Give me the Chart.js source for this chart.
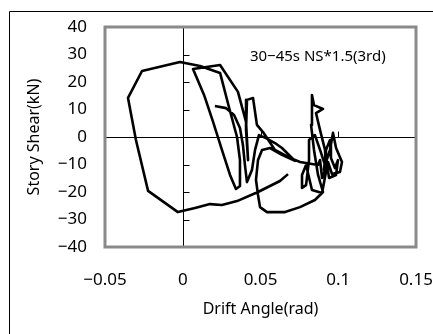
<!DOCTYPE html>
<html>
<head>
<meta charset="utf-8">
<script src="https://cdn.jsdelivr.net/npm/chart.js@4/dist/chart.umd.min.js"></script>
<style>
  html, body { margin: 0; padding: 0; background: #fff; }
  #wrap { position: relative; width: 433px; height: 334px; overflow: hidden; }
</style>
</head>
<body>
<div id="wrap"><canvas id="chart" width="433" height="334"></canvas></div>
<script>
// Hysteresis path
const driftAngle = [
  0.0207, 0.0278, 0.0330, 0.0368, 0.0387, 0.0400, 0.0413, 0.0445, 0.0465, 0.0490,
  0.0535, 0.0593, 0.0638, 0.0722, 0.0638, 0.0561, 0.0510, 0.0484, 0.0471, 0.0484,
  0.0497, 0.0542, 0.0658, 0.0754, 0.0850, 0.0902, 0.0870, 0.0844, 0.0825, 0.0831,
  0.0844, 0.0902, 0.0857, 0.0883, 0.0915, 0.0921, 0.0896, 0.0831, 0.0793, 0.0767,
  0.0767, 0.0793, 0.0812, 0.0812, 0.0850, 0.0883, 0.0915, 0.0947, 0.0966, 0.0986,
  0.1024, 0.1011, 0.0960, 0.0934, 0.0908,
  0.0921, 0.0947, 0.0953, 0.0979, 0.0998, 0.0986, 0.0941, 0.0928, 0.0896, 0.0883,
  0.0870, 0.0754, 0.0690, 0.0593, 0.0516,
  0.0477, 0.0452, 0.0413, 0.0407, 0.0420, 0.0407, 0.0355, 0.0240, 0.0066, 0.0137,
  0.0195, 0.0252, 0.0304, 0.0342, 0.0368, 0.0368, 0.0349, 0.0297, 0.0240, 0.0111,
  -0.0018, -0.0262, -0.0352, -0.0301, -0.0223, -0.0031, 0.0079, 0.0175, 0.0252, 0.0349,
  0.0484, 0.0625, 0.0677
];
const storyShear = [
  11.3, 10.5, 8.0, 3.3, -2.9, -10.2, -16.4, -12.0, -4.7, 0.7,
  -0.4, -2.2, -4.0, -8.7, -6.5, -4.0, -4.7, -8.4, -15.6, -21.1,
  -25.5, -27.3, -27.3, -25.5, -22.9, -20.0, -13.8, -4.7, 4.4, 15.3,
  11.6, 10.2, 8.7, 2.5, -4.7, -12.7, -20.4, -19.3, -10.2, -13.8,
  -18.5, -17.5, -8.4, -1.1, 0.7, -4.7, -10.2, -4.7, 1.5, -4.0,
  -9.1, -12.7, -13.5, -9.1, -12.0,
  -4.7, -1.1, -7.6, -11.3, -8.4, -13.8, -14.9, -10.2, -14.9, -8.4,
  -10.2, -9.1, -7.6, -4.7, 1.8,
  4.4, 14.2, 13.5, 2.5, -8.4, 5.5, 16.4, 26.2, 24.7, 15.3,
  5.5, -4.7, -13.8, -18.9, -17.8, -8.4, 0.0, 10.9, 23.3, 25.8,
  27.3, 24.0, 14.2, -1.1, -19.6, -27.3, -25.8, -24.4, -24.7, -23.3,
  -20.0, -16.0, -13.5
];

const xTickValues = [-0.05, 0, 0.05, 0.1, 0.15];
const xTickLabels = ["\u22120.05", "0", "0.05", "0.1", "0.15"];
const yTickValues = [-40, -30, -20, -10, 0, 10, 20, 30, 40];
const yTickLabels = ["\u221240", "\u221230", "\u221220", "\u221210", "0", "10", "20", "30", "40"];

const xTitle = "Drift Angle(rad)";
const yTitle = "Story Shear(kN)";
const noteText = "30\u221245s NS*1.5(3rd)";
const noteAt = { x: 0.0432, y: 29.1 };

const FONT = "'Noto Sans', 'Liberation Sans', sans-serif";

// frame, axes through the origin, small tick marks and the note
const decor = {
  id: "decor",
  beforeDraw(chart) {
    const ctx = chart.ctx;
    ctx.save();
    ctx.fillStyle = "#fff";
    ctx.fillRect(0, 0, chart.width, chart.height);
    ctx.strokeStyle = "#000";
    ctx.lineWidth = 1;
    ctx.beginPath();
    ctx.moveTo(9.5, chart.height);
    ctx.lineTo(9.5, 11.5);
    ctx.lineTo(chart.width, 11.5);
    ctx.stroke();
    ctx.restore();
  },
  beforeDatasetsDraw(chart) {
    const { ctx, chartArea: a, scales: { x, y } } = chart;
    const x0 = Math.round(x.getPixelForValue(0)) + 0.5;
    const y0 = Math.round(y.getPixelForValue(0)) + 0.5;
    ctx.save();
    ctx.strokeStyle = "#000";
    ctx.lineWidth = 1;
    ctx.beginPath();
    ctx.moveTo(a.left, y0); ctx.lineTo(a.right, y0);
    ctx.moveTo(x0, a.top); ctx.lineTo(x0, a.bottom);
    yTickValues.forEach(v => {
      const p = Math.round(y.getPixelForValue(v)) + 0.5;
      ctx.moveTo(x0, p); ctx.lineTo(x0 + 6, p);
    });
    xTickValues.forEach(v => {
      const p = Math.round(x.getPixelForValue(v)) + 0.5;
      ctx.moveTo(p, y0); ctx.lineTo(p, y0 - 6);
    });
    ctx.stroke();
    ctx.strokeStyle = "#8a8a8a";
    ctx.lineWidth = 3;
    ctx.strokeRect(a.left, a.top, a.right - a.left, a.bottom - a.top);
    ctx.restore();
  },
  afterDatasetsDraw(chart) {
    const { ctx, scales: { x, y } } = chart;
    ctx.save();
    ctx.fillStyle = "#000";
    ctx.font = "15px " + FONT;
    ctx.textAlign = "left";
    ctx.textBaseline = "middle";
    ctx.fillText(noteText, x.getPixelForValue(noteAt.x), y.getPixelForValue(noteAt.y));
    ctx.restore();
  }
};

new Chart(document.getElementById("chart"), {
  type: "scatter",
  data: {
    datasets: [{
      data: driftAngle.map((v, i) => ({ x: v, y: storyShear[i] })),
      showLine: true,
      borderColor: "#000",
      borderWidth: 2.6,
      borderJoinStyle: "round",
      pointRadius: 0,
      tension: 0
    }]
  },
  options: {
    responsive: false,
    animation: false,
    devicePixelRatio: 1,
    layout: { padding: { left: 0, top: 27, right: 17, bottom: 0 } },
    plugins: { legend: { display: false }, tooltip: { enabled: false } },
    scales: {
      x: {
        type: "linear",
        min: -0.05,
        max: 0.15,
        grid: { display: false, drawTicks: false },
        border: { display: false },
        afterBuildTicks: s => { s.ticks = xTickValues.map(v => ({ value: v })); },
        afterFit: s => { s.height = 87; s.paddingLeft = 0; s.paddingRight = 0; },
        ticks: {
          padding: 23,
          color: "#000",
          font: { family: FONT, size: 17 },
          maxRotation: 0,
          callback: (v, i) => xTickLabels[i]
        },
        title: {
          display: true,
          text: xTitle,
          color: "#000",
          font: { family: FONT, size: 16 },
          padding: { top: 0, bottom: 15 }
        }
      },
      y: {
        type: "linear",
        min: -40,
        max: 40,
        grid: { display: false, drawTicks: false },
        border: { display: false },
        afterBuildTicks: s => { s.ticks = yTickValues.map(v => ({ value: v })); },
        afterFit: s => { s.width = 105; s.paddingTop = 0; s.paddingBottom = 0; },
        ticks: {
          padding: 18,
          color: "#000",
          font: { family: FONT, size: 17 },
          callback: (v, i) => yTickLabels[i]
        },
        title: {
          display: true,
          text: yTitle,
          color: "#000",
          font: { family: FONT, size: 16 },
          padding: { top: 25, bottom: 0 }
        }
      }
    }
  },
  plugins: [decor]
});
</script>
</body>
</html>
